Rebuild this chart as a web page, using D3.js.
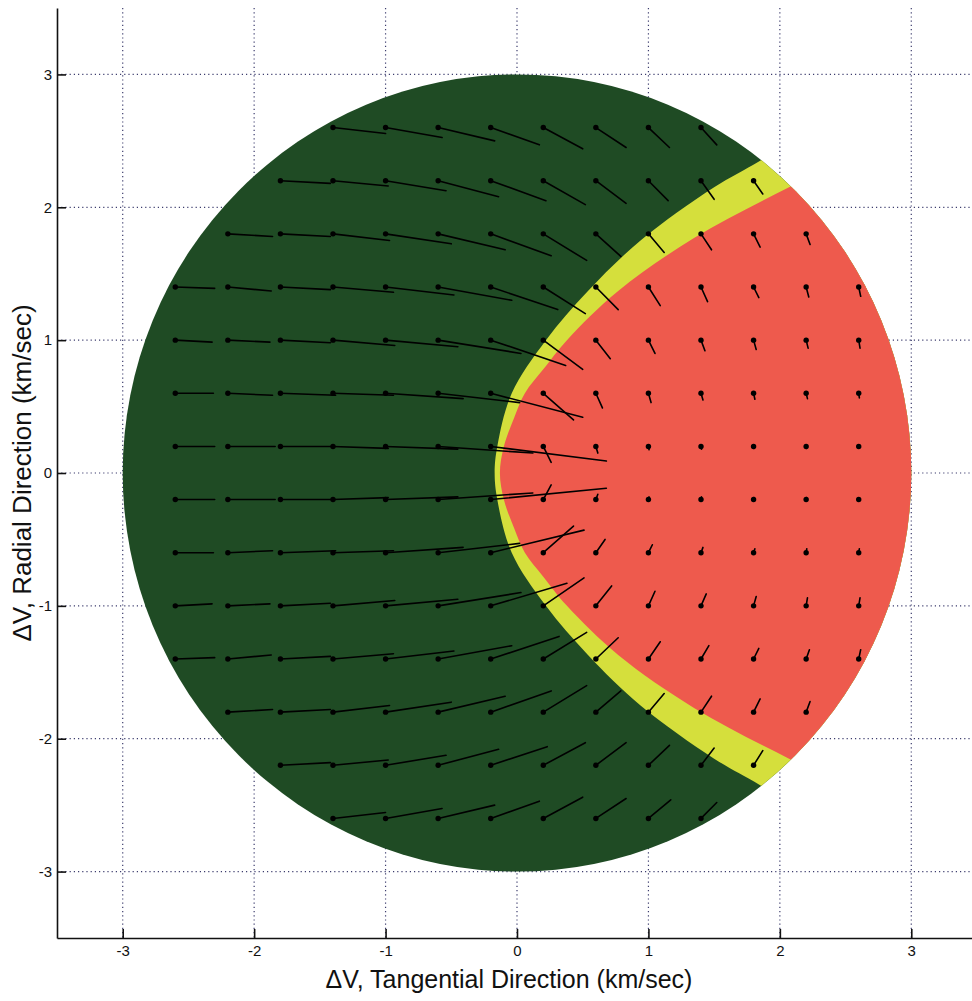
<!DOCTYPE html>
<html>
<head>
<meta charset="utf-8">
<script src="https://cdn.jsdelivr.net/npm/d3@7"></script>
<style>
  body { margin: 0; background: #fff; }
  text { font-family: "Liberation Sans", Arial, Helvetica, sans-serif; fill: #111; }
</style>
</head>
<body>
<script>
// starting points of the delta-V grid (km/sec)
const gridX = [-2.6, -2.2, -1.8, -1.4, -1.0, -0.6, -0.2, 0.2, 0.6, 1.0, 1.4, 1.8, 2.2, 2.6];
const gridY = [2.6, 2.2, 1.8, 1.4, 1.0, 0.6, 0.2, -0.2, -0.6, -1.0, -1.4, -1.8, -2.2, -2.6];

// displacement of each line end from its start point (null = outside the disc)
const arrowDx = [
  [null, null, null, 0.40, 0.43, 0.43, 0.37, 0.30, 0.23, 0.16, 0.12, null, null, null],
  [null, null, 0.38, 0.42, 0.46, 0.46, 0.42, 0.32, 0.23, 0.15, 0.10, 0.07, null, null],
  [null, 0.34, 0.38, 0.43, 0.50, 0.51, 0.46, 0.33, 0.19, 0.12, 0.08, 0.05, 0.03, null],
  [0.30, 0.33, 0.38, 0.46, 0.52, 0.56, 0.51, 0.32, 0.17, 0.09, 0.05, 0.04, 0.02, 0.015],
  [0.28, 0.32, 0.38, 0.47, 0.55, 0.63, 0.57, 0.30, 0.11, 0.05, 0.03, 0.02, 0.015, 0.01],
  [0.29, 0.34, 0.42, 0.46, 0.59, 0.62, 0.70, 0.23, 0.05, 0.02, 0.015, 0.01, 0.01, 0.005],
  [0.30, 0.36, 0.39, 0.42, 0.55, 0.72, 0.88, 0.06, 0.015, 0.005, 0.004, 0.003, 0.002, 0.002],
  [0.30, 0.36, 0.39, 0.42, 0.55, 0.72, 0.88, 0.06, 0.015, 0.005, 0.004, 0.003, 0.002, 0.002],
  [0.29, 0.34, 0.42, 0.46, 0.59, 0.62, 0.71, 0.23, 0.07, 0.03, 0.015, 0.01, 0.005, 0.005],
  [0.28, 0.32, 0.38, 0.47, 0.55, 0.63, 0.58, 0.31, 0.12, 0.05, 0.04, 0.02, 0.01, 0.01],
  [0.30, 0.33, 0.38, 0.46, 0.52, 0.56, 0.52, 0.33, 0.17, 0.09, 0.06, 0.04, 0.025, 0.015],
  [null, 0.34, 0.38, 0.43, 0.50, 0.51, 0.46, 0.33, 0.19, 0.12, 0.08, 0.05, 0.03, null],
  [null, null, 0.38, 0.42, 0.46, 0.46, 0.43, 0.32, 0.23, 0.16, 0.10, 0.07, null, null],
  [null, null, null, 0.40, 0.43, 0.43, 0.37, 0.30, 0.23, 0.17, 0.12, null, null, null]
];
const arrowDy = [
  [null, null, null, -0.045, -0.075, -0.10, -0.13, -0.16, -0.15, -0.15, -0.13, null, null, null],
  [null, null, -0.02, -0.04, -0.075, -0.12, -0.15, -0.18, -0.17, -0.15, -0.14, -0.10, null, null],
  [null, -0.02, -0.02, -0.05, -0.075, -0.12, -0.165, -0.20, -0.17, -0.14, -0.12, -0.10, -0.08, null],
  [-0.01, -0.03, -0.02, -0.04, -0.06, -0.10, -0.17, -0.20, -0.17, -0.14, -0.11, -0.08, -0.075, -0.07],
  [-0.015, -0.015, -0.02, -0.04, -0.05, -0.10, -0.19, -0.22, -0.14, -0.10, -0.08, -0.07, -0.06, -0.06],
  [0, -0.015, -0.015, -0.015, -0.04, -0.07, -0.18, -0.20, -0.11, -0.07, -0.05, -0.045, -0.04, -0.035],
  [0, 0, 0, -0.015, -0.02, -0.05, -0.11, -0.12, -0.05, -0.025, -0.02, -0.015, -0.015, -0.01],
  [0, 0, 0, 0.015, 0.02, 0.05, 0.085, 0.11, 0.04, 0.02, 0.02, 0.015, 0.015, 0.01],
  [0, 0.015, 0.015, 0.015, 0.04, 0.07, 0.17, 0.20, 0.10, 0.06, 0.04, 0.03, 0.03, 0.03],
  [0.015, 0.015, 0.02, 0.04, 0.05, 0.10, 0.17, 0.21, 0.15, 0.11, 0.09, 0.07, 0.06, 0.06],
  [0.01, 0.03, 0.02, 0.04, 0.06, 0.10, 0.17, 0.20, 0.16, 0.13, 0.10, 0.08, 0.07, 0.07],
  [null, 0.02, 0.02, 0.05, 0.075, 0.12, 0.16, 0.20, 0.16, 0.14, 0.12, 0.10, 0.08, null],
  [null, null, 0.02, 0.04, 0.075, 0.12, 0.14, 0.17, 0.17, 0.15, 0.13, 0.11, null, null],
  [null, null, null, 0.045, 0.075, 0.10, 0.13, 0.16, 0.15, 0.14, 0.12, null, null, null]
];

const ticks = [-3, -2, -1, 0, 1, 2, 3];
const discRadius = 3;

// outer edge of the yellow band and edge of the red region, bottom to top
const yellowEdge = [
  [2.5, -2.75], [1.85, -2.35], [1.5, -2.15], [0.94, -1.75], [0.54, -1.37], [0.22, -1.0],
  [-0.04, -0.6], [-0.15, -0.2], [-0.17, 0], [-0.15, 0.2], [-0.04, 0.6], [0.22, 1.0],
  [0.54, 1.37], [0.94, 1.75], [1.5, 2.15], [1.85, 2.35], [2.5, 2.75]
];
const redEdge = [
  [2.8, -2.5], [2.07, -2.15], [1.35, -1.77], [0.77, -1.37], [0.38, -1.0], [0.2, -0.78],
  [0.06, -0.6], [-0.02, -0.42], [-0.10, -0.2], [-0.13, 0], [-0.10, 0.2], [-0.02, 0.42],
  [0.06, 0.6], [0.2, 0.78], [0.38, 1.0], [0.77, 1.37], [1.35, 1.77], [2.07, 2.15], [2.8, 2.5]
];

const width = 972, height = 1001;
const x = d3.scaleLinear().domain([-3.5, 3.5]).range([57, 977]);
const y = d3.scaleLinear().domain([-3.5, 3.5]).range([938, 8]);

const svg = d3.select("body").append("svg")
    .attr("width", width)
    .attr("height", height);

// dotted grid
const grid = svg.append("g")
    .attr("stroke", "#3d3d6e")
    .attr("stroke-width", 1.2)
    .attr("stroke-dasharray", "1.2,3");
ticks.forEach(t => {
    grid.append("line")
        .attr("x1", x(t)).attr("x2", x(t))
        .attr("y1", y(3.5)).attr("y2", y(-3.5));
    grid.append("line")
        .attr("x1", x(-3.5)).attr("x2", x(3.5))
        .attr("y1", y(t)).attr("y2", y(t));
});

// disc and its regions
svg.append("clipPath").attr("id", "disc")
    .append("ellipse")
    .attr("cx", x(0)).attr("cy", y(0))
    .attr("rx", x(discRadius) - x(0))
    .attr("ry", y(0) - y(discRadius));

svg.append("ellipse")
    .attr("cx", x(0)).attr("cy", y(0))
    .attr("rx", x(discRadius) - x(0))
    .attr("ry", y(0) - y(discRadius))
    .attr("fill", "#1f4b24");

const edgeLine = d3.line()
    .x(d => x(d[0]))
    .y(d => y(d[1]))
    .curve(d3.curveCatmullRom);

const regionPath = edge => {
    const last = edge[edge.length - 1], first = edge[0];
    return edgeLine(edge) +
        `L${x(3.6)},${y(last[1])}L${x(3.6)},${y(first[1])}Z`;
};

const regions = svg.append("g").attr("clip-path", "url(#disc)");
regions.append("path").attr("d", regionPath(yellowEdge)).attr("fill", "#d5df3c");
regions.append("path").attr("d", regionPath(redEdge)).attr("fill", "#ee5a4d");

// line + start marker for every grid point
const arrows = [];
gridY.forEach((gy, i) => {
    gridX.forEach((gx, j) => {
        if (arrowDx[i][j] === null) return;
        arrows.push({ x0: gx, y0: gy, x1: gx + arrowDx[i][j], y1: gy + arrowDy[i][j] });
    });
});

svg.append("g")
    .attr("stroke", "#000")
    .attr("stroke-width", 1.6)
    .attr("stroke-linecap", "round")
    .selectAll("line")
    .data(arrows)
    .join("line")
    .attr("x1", d => x(d.x0)).attr("y1", d => y(d.y0))
    .attr("x2", d => x(d.x1)).attr("y2", d => y(d.y1));

svg.append("g")
    .selectAll("circle")
    .data(arrows)
    .join("circle")
    .attr("cx", d => x(d.x0)).attr("cy", d => y(d.y0))
    .attr("r", 2.7)
    .attr("fill", "#000");

// axes (ticks inside, no box)
const fmt = d => String(d);
const xAxis = svg.append("g")
    .attr("transform", `translate(0,${y(-3.5)})`)
    .call(d3.axisBottom(x).tickValues(ticks).tickFormat(fmt)
        .tickSizeInner(-9).tickSizeOuter(0).tickPadding(7));
const yAxis = svg.append("g")
    .attr("transform", `translate(${x(-3.5)},0)`)
    .call(d3.axisLeft(y).tickValues(ticks).tickFormat(fmt)
        .tickSizeInner(-9).tickSizeOuter(0).tickPadding(5));

[xAxis, yAxis].forEach(a => {
    a.selectAll("path, line").attr("stroke", "#111").attr("stroke-width", 1.6);
    a.selectAll("text").attr("font-size", 15).attr("fill", "#111")
        .style("font-family", '"Liberation Sans", Arial, sans-serif');
});

svg.append("text")
    .attr("x", x(0) - 8)
    .attr("y", 988)
    .attr("text-anchor", "middle")
    .attr("font-size", 25)
    .text("\u0394V, Tangential Direction (km/sec)");

svg.append("text")
    .attr("transform", `translate(31,${y(0)}) rotate(-90)`)
    .attr("text-anchor", "middle")
    .attr("font-size", 26)
    .text("\u0394V, Radial Direction (km/sec)");
</script>
</body>
</html>
